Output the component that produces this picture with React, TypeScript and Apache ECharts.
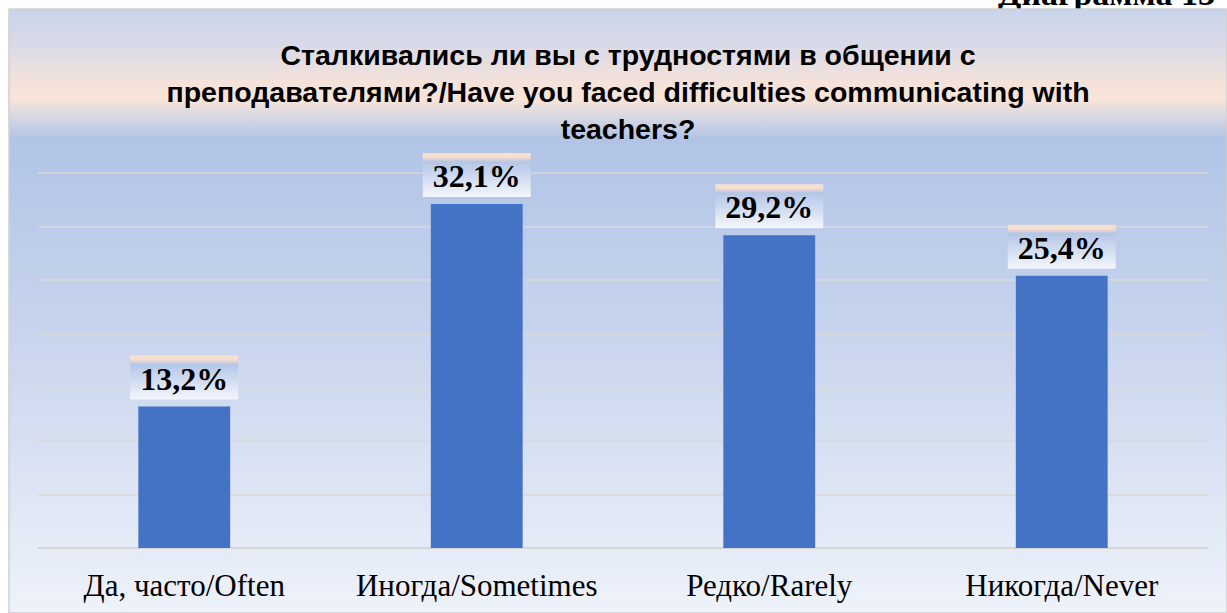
import React, { useEffect, useRef } from "react";
import * as echarts from "echarts";

const categories = ["Да, часто/Often", "Иногда/Sometimes", "Редко/Rarely", "Никогда/Never"];
const values = [13.2, 32.1, 29.2, 25.4];
const titleText =
  "Сталкивались ли вы с трудностями в общении с\nпреподавателями?/Have you faced difficulties communicating with\nteachers?";
const captionText = "Диаграмма 13";

export default function App() {
  const ref = useRef<HTMLDivElement>(null);
  useEffect(() => {
    if (!ref.current) return;
    const chart = echarts.init(ref.current, null, { renderer: "svg" });
    const bg = new echarts.graphic.LinearGradient(0, 0, 0, 1, [
      { offset: 0, color: "#c9d4ea" },
      { offset: 0.06, color: "#d9dae8" },
      { offset: 0.12, color: "#f4e2da" },
      { offset: 0.15, color: "#f8e4d8" },
      { offset: 0.18, color: "#d6d7e2" },
      { offset: 0.215, color: "#b1c4e6" },
      { offset: 0.5, color: "#c5d2ec" },
      { offset: 1, color: "#eef2fa" },
    ]);
    const labelBg = new echarts.graphic.LinearGradient(0, 0, 0, 1, [
      { offset: 0, color: "#fbe3d2" },
      { offset: 0.1, color: "#f4dcd0" },
      { offset: 0.2, color: "#b4c6e7" },
      { offset: 1, color: "#f4f6fc" },
    ]);
    chart.setOption({
      animation: false,
      graphic: [
        {
          type: "text",
          left: 998,
          top: -24,
          z: -30,
          style: {
            text: captionText,
            font: "bold 34px 'Liberation Serif', 'Times New Roman', serif",
            fill: "#000",
          },
        },
        {
          type: "rect",
          shape: { x: 9, y: 9, width: 1218, height: 604 },
          z: -20,
          style: { fill: bg, stroke: "#d0d0d0", lineWidth: 1.5 },
        },
      ],
      title: {
        text: titleText,
        left: 623,
        textAlign: "center",
        top: 31,
        textStyle: {
          fontFamily: "'Liberation Sans', Arial, sans-serif",
          fontWeight: "bold",
          fontSize: 28.5,
          lineHeight: 37,
          color: "#000",
        },
      },
      grid: { left: 38, right: 19, top: 173, bottom: 65, containLabel: false },
      xAxis: {
        type: "category",
        data: categories,
        axisLine: { lineStyle: { color: "#d4d4d4", width: 1.5 } },
        axisTick: { show: false },
        axisLabel: {
          interval: 0,
          hideOverlap: false,
          color: "#000",
          fontFamily: "'Liberation Serif', 'Times New Roman', serif",
          fontSize: 31,
          margin: 22,
        },
      },
      yAxis: {
        type: "value",
        min: 0,
        max: 35,
        interval: 5,
        axisLabel: { show: false },
        axisLine: { show: false },
        axisTick: { show: false },
        splitLine: { lineStyle: { color: "#d9d9d9", width: 1.5 } },
      },
      series: [
        {
          type: "bar",
          data: values,
          barWidth: "31.4%",
          itemStyle: { color: "#4472c4" },
          label: {
            show: true,
            position: "top",
            distance: 7,
            formatter: (p: any) => p.value.toFixed(1).replace(".", ",") + "%",
            fontFamily: "'Liberation Serif', 'Times New Roman', serif",
            fontWeight: "bold",
            fontSize: 32,
            color: "#000",
            backgroundColor: labelBg,
            padding: [7, 10, 5, 10],
          },
        },
      ],
    });
    return () => chart.dispose();
  }, []);
  return (
    <div
      ref={ref}
      style={{ position: "absolute", left: 0, top: 0, width: 1227, height: 613, background: "#fff" }}
    />
  );
}
